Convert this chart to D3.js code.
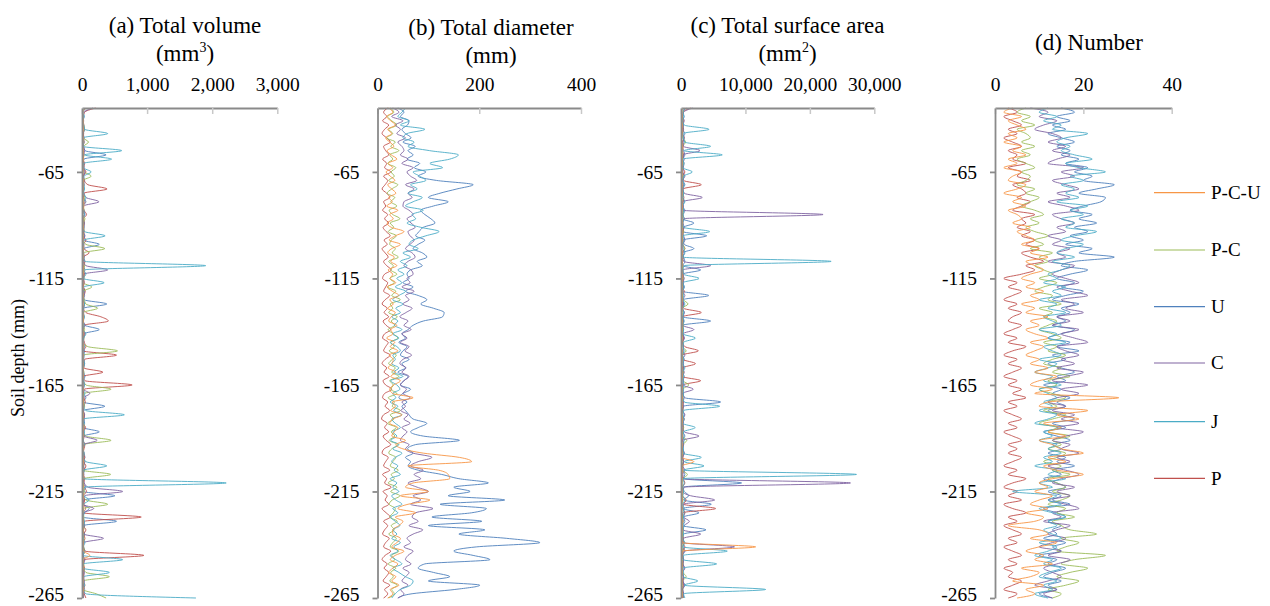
<!DOCTYPE html>
<html lang="en">
<head>
<meta charset="utf-8">
<title>Root traits by soil depth</title>
<script src="https://d3js.org/d3.v7.min.js"></script>
<style>
  body { margin: 0; background: #fff; }
  text { font-family: "Liberation Serif", "Times New Roman", serif; fill: #000; }
</style>
</head>
<body>
<script>
// soil depth (mm), one sample every 2 mm
var depth = d3.range(-35, -266, -2);
var depthTicks = [-65, -115, -165, -215, -265];

var seriesNames = ["P-C-U", "P-C", "U", "C", "J", "P"];
var seriesColors = ["#F79646", "#9BBB59", "#4F81BD", "#8064A2", "#4BACC6", "#C0504D"];
// excel series order (last drawn on top)
var drawOrder = ["U", "P", "P-C", "C", "J", "P-C-U"];

// (a) Total volume (mm3)
var volPCU = [50,15,10,20,15,25,10,20,15,10, 20,15,25,10,15,20,10,25,15,20, 10,15,20,30,15,10,20,15,25,10,
  15,20,10,25,15,20,10,15,30,20, 10,15,20,10,25,15,20,10,15,20, 25,10,15,20,10,15,25,10,20,15,
  10,20,15,25,10,15,20,10,15,25, 15,10,20,15,10,25,15,20,10,15, 20,10,15,25,15,10,20,15,10,20,
  15,25,10,15,20,10,15,20,10,25, 15,10,20,15,25,120,10,15,20,10, 15,20,10,25,15,10];
var volPC = [30,15,20,10,25,40,15,20,100,25, 15,30,20,25,10,35,140,20,30,15, 25,40,15,20,30,10,45,20,25,30,
  15,20,60,350,25,30,15,40,20,25, 30,15,150,25,20,35,60,240,20,30, 15,25,40,20,30,15,90,545,25,20,
  35,15,30,20,25,60,445,30,15,25, 40,20,30,15,25,35,20,60,445,25, 15,30,20,40,25,15,440,30,20,25,
  35,20,60,395,25,15,30,20,40,25, 15,30,20,25,35,20,15,30,25,60, 420,20,30,15,215,370];
var volU = [60,20,35,15,25,40,20,30,15,25, 45,370,30,20,35,15,25,40,20,30, 15,25,60,20,30,45,15,25,35,20,
  40,25,265,30,20,15,35,25,45,20, 30,15,25,40,20,35,380,25,15,30, 20,45,265,25,15,30,20,40,25,15,
  35,20,25,45,15,30,20,25,60,20, 350,25,15,30,40,20,265,25,15,35, 20,30,45,15,25,40,20,30,15,60,
  25,505,30,20,110,35,15,530,25,20, 40,15,30,25,45,20,30,15,25,35, 20,30,15,40,25,20];
var volC = [170,30,15,25,20,35,15,30,20,25, 40,25,15,30,20,45,25,15,35,20, 30,60,260,25,20,35,15,30,25,20,
  45,15,30,20,25,35,20,60,395,25, 20,30,15,25,40,20,35,15,25,30, 20,45,15,30,25,20,35,15,30,25,
  40,20,15,30,25,35,20,120,25,15, 30,20,40,25,15,35,20,30,233,25, 15,30,20,45,25,15,30,20,35,90,
  625,40,25,20,180,30,15,25,40,20, 30,330,25,15,30,20,45,25,15,30, 20,35,25,15,30,20];
var volJ = [40,20,30,15,25,40,395,20,30,15, 610,40,455,25,20,140,30,15,25,40, 20,60,30,15,25,35,20,30,15,40,
  355,25,20,30,15,25,45,1900,30,60, 20,340,25,15,30,20,40,25,15,35, 20,30,15,60,25,20,35,15,30,25,
  40,20,15,30,25,35,20,45,15,30, 25,60,650,20,30,15,40,25,20,35, 15,30,20,60,380,25,15,30,2215,40,
  20,30,110,25,15,35,20,40,25,15, 30,20,45,15,30,20,625,25,15,420, 30,20,40,15,60,1750];
var volP = [210,40,20,15,30,10,25,20,35,15, 20,30,15,40,25,60,20,35,90,385, 30,20,45,15,30,70,25,40,20,35,
  15,60,25,30,110,20,45,30,20,40, 25,35,20,50,30,15,40,25,60,290, 405,30,20,45,25,35,60,20,530,40,
  25,30,320,20,45,770,35,20,30,50, 25,15,40,30,20,55,25,35,20,45, 30,20,40,25,60,30,20,45,25,35,
  70,20,40,30,55,25,910,40,20,60, 30,45,25,20,50,950,35,20,40,25, 30,20,45,25,35,60];

// (b) Total diameter (mm)
var diaPCU = [22,30,18,26,35,20,28,16,24,32, 19,27,38,21,30,17,25,34,20,28, 36,22,29,18,40,24,31,19,27,52,
  35,23,45,28,20,33,26,38,21,30, 25,36,19,29,42,24,31,20,35,27, 22,38,26,30,18,34,25,40,23,31,
  28,21,36,26,45,32,24,30,70,29, 35,26,48,30,24,40,33,28,55,36, 50,90,161,185,60,120,139,142,70,55,
  100,45,103,60,40,75,35,50,42,30, 30,45,38,28,52,35,25,40,30,22, 36,28,42,25,30,20];
var diaPC = [25,32,20,28,38,22,30,18,35,26, 42,24,30,20,36,27,33,22,40,28, 19,34,26,38,23,30,44,25,32,21,
  37,27,24,35,29,41,22,31,26,38, 24,33,20,36,28,45,25,30,22,39, 27,34,21,31,40,26,33,23,37,29,
  22,35,28,42,24,31,26,38,21,33, 29,45,25,32,20,37,27,34,23,40, 28,22,36,30,25,41,27,33,21,38,
  26,44,29,23,35,31,24,39,27,33, 22,37,30,25,42,28,34,21,36,26, 31,24,39,28,33,22];
var diaU = [40,52,45,62,59,48,55,66,50,74, 60,70,58,83,72,95,80,116,188,156, 123,100,139,110,85,93,105,113,90,82,
  75,93,80,70,88,97,78,88,65,58, 62,50,70,55,80,97,85,110,131,128, 90,70,60,48,55,42,58,50,45,62,
  48,55,40,60,52,45,65,50,42,58, 48,55,62,70,97,80,65,90,161,75, 59,70,55,65,60,80,126,160,218,150,
  182,139,250,123,214,185,107,205,100,211, 160,254,319,195,150,188,221,93,80,110, 142,100,201,152,68,40];
var diaC = [30,42,28,50,35,45,38,55,40,48, 52,45,60,48,70,58,65,77,55,72, 60,68,52,50,62,70,58,66,74,60,
  64,72,64,55,68,74,60,52,66,70, 58,64,48,72,55,62,50,68,56,44, 60,52,66,48,58,45,62,54,67,50,
  44,56,48,62,52,45,57,50,64,48, 55,46,60,52,64,48,58,50,45,62, 55,70,107,80,65,90,72,85,60,78,
  100,70,85,65,109,75,68,80,62,89, 70,58,65,52,70,60,55,66,50,62, 55,48,60,45,52,40];
var diaJ = [55,48,40,62,45,93,58,50,72,60, 102,159,142,103,128,70,83,95,65,78, 60,88,70,55,90,68,75,58,85,121,
  95,70,62,80,50,65,45,58,40,52, 38,48,35,55,42,30,50,36,45,28, 40,33,48,30,42,25,38,45,30,35,
  28,42,32,50,26,38,44,30,36,25, 40,32,48,28,35,45,30,38,26,42, 30,48,35,28,40,33,45,25,38,30,
  42,28,36,48,30,40,26,35,44,30, 38,28,45,32,40,25,36,48,30,42, 55,70,65,45,35,28];
var diaP = [20,12,18,10,22,14,9,18,25,12, 16,22,10,18,14,26,12,20,15,9, 18,24,12,16,10,20,14,22,11,17,
  25,13,19,9,15,21,12,18,27,14, 10,20,16,12,24,15,9,19,13,22, 11,17,26,14,10,21,16,12,25,15,
  9,18,13,23,11,16,28,14,10,20, 15,24,12,8,19,14,22,11,17,26, 13,9,21,16,12,24,10,18,14,27,
  11,19,15,22,9,17,25,12,20,14, 10,23,16,12,26,15,9,19,13,22, 17,11,24,14,20,12];

// (c) Total surface area (mm2)
var areaPCU = [300,150,200,100,250,150,200,100,150,250, 100,200,150,250,100,200,150,100,250,150, 200,100,150,250,200,100,150,200,100,250,
  150,200,100,150,250,100,200,150,100,200, 250,150,100,200,150,250,100,200,150,100, 200,150,250,100,200,150,100,250,150,200,
  100,150,200,250,100,150,200,100,250,150, 200,100,150,250,200,100,150,200,100,250, 150,200,100,2000,150,250,100,200,150,100,
  200,150,250,100,200,150,100,250,150,200, 100,150,200,11580,250,150,100,200,150,250, 100,200,150,100,250,150];
var areaPC = [200,350,150,300,250,400,200,300,700,250, 150,300,200,400,250,150,350,200,300,250, 400,150,300,200,350,250,150,300,200,400,
  250,150,300,600,200,350,150,250,300,200, 400,150,300,250,200,350,1100,200,300,150, 250,400,200,300,150,350,250,800,200,300,
  150,250,400,200,300,1200,250,150,300,200, 350,250,150,300,200,400,250,150,900,300, 200,350,150,300,250,200,1000,300,150,250,
  400,200,300,150,250,600,200,300,150,350, 250,200,400,150,300,250,200,350,150,300, 800,250,200,300,150,400];
var areaU = [800,300,500,200,400,250,600,300,500,200, 400,600,250,500,300,200,450,300,600,250, 400,300,500,200,600,350,250,2000,400,300,
  3980,300,500,2000,250,400,600,300,3050,250, 400,300,500,250,4300,300,400,200,500,300, 4600,250,400,300,500,200,400,300,250,500,
  300,400,200,500,300,250,400,300,600,6150, 400,250,500,300,200,400,300,600,250,400, 300,500,200,400,300,250,600,400,9400,300,
  500,1200,400,4700,300,2800,400,600,300,3870, 400,250,500,300,600,250,400,300,500,250, 400,300,600,250,400,300];
var areaC = [1800,400,250,500,300,400,250,500,300,400, 2950,300,500,250,400,300,600,250,400,300, 500,3300,250,400,300,22050,400,300,500,250,
  400,600,300,250,500,300,400,4600,300,250, 500,300,400,250,600,300,400,250,500,300, 400,250,2000,300,500,250,400,300,600,250,
  400,300,500,250,400,300,1900,250,500,300, 400,250,600,300,400,250,500,2800,300,400, 250,500,300,400,250,600,300,400,26300,500,
  300,1500,5220,400,300,600,400,1300,500,300, 3050,400,300,8300,500,250,400,300,600,250, 400,300,500,250,400,300];
var areaJ = [600,300,400,250,500,4340,300,400,600,4600, 500,6400,300,400,250,1750,400,300,500,250, 400,300,600,250,400,300,500,250,400,4450,
  300,500,250,400,600,300,23300,500,300,400, 2800,300,500,250,400,300,600,250,400,300, 500,250,400,300,2250,400,300,500,250,400,
  300,600,250,400,300,500,250,400,300,500, 6000,400,300,500,250,2200,400,300,500,250, 400,300,3150,500,3570,400,27230,300,500,250,
  400,300,600,250,500,300,400,250,500,300, 400,250,600,300,7180,400,300,5530,250,400, 300,2600,500,13130,400,600];
var areaP = [1500,300,200,400,150,300,250,500,200,350, 250,400,150,300,200,600,250,400,3150,300, 200,450,300,150,350,250,500,200,300,400,
  150,300,250,600,200,350,150,300,250,400, 200,350,150,500,250,300,200,400,3150,250, 350,200,300,150,400,250,600,2700,200,300,
  2250,250,400,200,3050,300,150,350,250,400, 200,300,150,500,250,350,200,300,250,400, 150,300,250,400,200,350,150,300,600,250,
  300,200,800,400,5380,300,200,350,150,300, 250,400,200,600,300,250,400,200,300,150, 350,250,400,200,300,250];

// (d) Number
var numPCU = [4,2,6,3,5,7,3,5,2,6, 4,7,3,5,2,6,4,3,7,5, 2,6,4,7,3,5,6,4,8,5,
  7,9,6,10,8,12,7,9,11,8, 6,9,7,11,8,10,6,9,7,12, 8,10,7,9,12,8,11,9,7,10,
  8,12,9,14,10,8,13,9,28,12, 10,21,14,19,11,15,12,16,10,13, 15,20,12,16,11,14,20,13,10,12,
  9,13,10,8,12,7,11,9,3,10, 12,8,14,10,7,11,9,13,6,10, 8,4,11,7,9,5];
var numPC = [7,5,8,6,9,5,7,8,6,9, 6,8,5,7,9,6,8,7,5,9, 7,10,8,6,9,11,8,10,7,9,
  12,9,11,8,13,10,12,9,11,13, 10,14,11,9,13,12,15,10,13,11, 14,12,10,13,15,11,14,12,16,13,
  11,15,13,17,12,14,10,13,16,12, 14,11,16,13,10,14,12,17,13,15, 12,16,14,11,15,13,17,12,14,16,
  13,17,15,12,16,14,18,13,15,17, 23,15,19,16,14,25,18,15,21,17, 14,19,16,12,15,13];
var numU = [15,18,14,17,13,16,12,15,18,14, 17,15,19,16,21,18,22,20,27,23, 19,25,24,20,17,22,19,23,18,21,
  17,20,16,22,19,27,18,15,21,17, 14,18,15,20,16,13,19,15,17,14, 16,13,18,15,12,17,14,19,13,16,
  12,15,18,14,16,11,15,13,17,14, 16,12,15,18,13,16,11,14,17,13, 15,12,16,14,18,13,15,11,14,16,
  12,15,13,17,11,14,16,12,15,13, 14,11,16,13,15,10,14,12,16,13, 11,15,12,14,10,13];
var numC = [8,12,10,14,11,9,13,15,12,16, 13,17,14,12,20,15,18,13,16,19, 14,17,12,16,19,13,15,18,14,16,
  12,15,13,17,14,16,12,18,15,13, 16,19,14,17,21,15,18,16,20,14, 17,13,19,15,18,21,14,16,19,15,
  18,14,20,16,13,21,15,19,14,12, 16,13,18,15,19,14,20,16,13,17, 15,19,14,17,12,16,19,15,13,18,
  14,17,12,16,19,13,15,11,17,14, 12,16,13,10,15,12,17,14,11,13, 15,12,9,14,11,13];
var numJ = [12,10,14,11,15,13,21,16,14,17, 15,18,22,16,19,25,17,20,15,18, 16,19,14,21,17,20,15,18,16,23,
  18,15,20,16,14,18,13,17,15,12, 14,11,16,13,15,10,14,12,16,11, 13,15,10,14,12,16,11,13,15,10,
  14,12,9,13,11,15,10,12,14,11, 13,10,14,12,9,15,11,13,10,14, 12,15,11,13,9,14,12,16,10,13,
  4,14,12,15,10,13,16,12,14,11, 13,15,10,14,12,9,13,11,15,12, 10,14,11,13,9,12];
var numP = [3,5,2,4,6,3,5,2,4,6, 3,5,4,7,3,6,5,8,4,6, 7,5,8,6,4,9,6,7,5,8,
  6,9,7,10,6,8,11,7,9,6, 2,5,3,6,4,2,5,3,6,4, 3,6,4,2,5,3,7,4,2,5,
  3,6,4,2,5,3,6,4,7,3, 5,2,4,6,3,5,2,4,6,3, 5,3,6,4,2,5,3,7,4,2,
  5,3,6,2,4,7,3,5,2,4, 6,3,5,2,4,6,3,5,2,4, 3,6,4,2,5,3];

var panels = [
  { title: ["(a) Total volume", "(mm", "3", ")"], cx: 185, ty: 33, x0: 82, x1: 277.3, max: 3000, ticks: [0, 1000, 2000, 3000],
    values: { "P-C-U": volPCU, "P-C": volPC, "U": volU, "C": volC, "J": volJ, "P": volP } },
  { title: ["(b) Total diameter", "(mm", "", ")"], cx: 491, ty: 35, x0: 377.5, x1: 581, max: 400, ticks: [0, 200, 400],
    values: { "P-C-U": diaPCU, "P-C": diaPC, "U": diaU, "C": diaC, "J": diaJ, "P": diaP } },
  { title: ["(c) Total surface area", "(mm", "2", ")"], cx: 787.5, ty: 33, x0: 681, x1: 874.3, max: 30000, ticks: [0, 10000, 20000, 30000],
    values: { "P-C-U": areaPCU, "P-C": areaPC, "U": areaU, "C": areaC, "J": areaJ, "P": areaP } },
  { title: ["(d) Number"], cx: 1089, ty: 50, x0: 995, x1: 1171.7, max: 40, ticks: [0, 20, 40],
    values: { "P-C-U": numPCU, "P-C": numPC, "U": numU, "C": numC, "J": numJ, "P": numP } }
];

var width = 1270, height = 606;
var yTop = 108, yBottom = 598;

var svg = d3.select("body").append("svg")
  .attr("width", width)
  .attr("height", height);

var yScale = d3.scaleLinear().domain([-265, -35]).range([yBottom, yTop]);
var color = d3.scaleOrdinal().domain(seriesNames).range(seriesColors);

// plain hyphen for negative depths, like the original
var fmtDepth = function (d) { return String(d); };

panels.forEach(function (p) {
  var xScale = d3.scaleLinear().domain([0, p.max]).range([p.x0, p.x1]);

  var line = d3.line()
    .x(function (d) { return xScale(d.v); })
    .y(function (d) { return yScale(d.depth); })
    .curve(d3.curveMonotoneY);

  var g = svg.append("g");

  drawOrder.forEach(function (name) {
    var pts = p.values[name].map(function (v, i) { return { depth: depth[i], v: v }; });
    g.append("path")
      .datum(pts)
      .attr("fill", "none")
      .attr("stroke", color(name))
      .attr("stroke-width", 1)
      .attr("stroke-opacity", 0.9)
      .attr("d", line);
  });

  // top axis, ticks pointing into the plot
  var xAxis = svg.append("g")
    .attr("transform", "translate(0," + yTop + ")")
    .call(d3.axisTop(xScale).tickValues(p.ticks).tickFormat(d3.format(",")).tickSizeInner(-6).tickSizeOuter(0).tickPadding(17.5));
  xAxis.selectAll("text").style("font-size", "19.5px").style("font-family", "'Liberation Serif', serif").attr("fill", "#000");

  // left axis
  var yAxis = svg.append("g")
    .attr("transform", "translate(" + p.x0 + ",0)")
    .call(d3.axisLeft(yScale).tickValues(depthTicks).tickFormat(fmtDepth).tickSizeInner(5).tickSizeOuter(0).tickPadding(13));
  yAxis.selectAll("text").style("font-size", "19.5px").style("font-family", "'Liberation Serif', serif").attr("fill", "#000");
  // keep the bottom label inside the picture
  yAxis.selectAll(".tick text").filter(function (d) { return d === -265; }).attr("dy", "0.15em");

  [xAxis, yAxis].forEach(function (a) {
    a.select(".domain").attr("stroke", "#8a8a8a").attr("stroke-width", 1.8);
    a.selectAll(".tick line").attr("stroke", "#8a8a8a").attr("stroke-width", 1.8);
  });
  xAxis.selectAll(".tick line").attr("stroke", "#c8c8c8").attr("stroke-width", 1.5);

  // panel title
  svg.append("text")
    .attr("x", p.cx)
    .attr("y", p.ty)
    .attr("text-anchor", "middle")
    .style("font-size", "23px")
    .text(p.title[0]);
  if (p.title.length > 1) {
    var t2 = svg.append("text")
      .attr("x", p.cx)
      .attr("y", p.ty + 28)
      .attr("text-anchor", "middle")
      .style("font-size", "23px");
    t2.append("tspan").text(p.title[1]);
    if (p.title[2]) {
      t2.append("tspan").attr("dy", -9).style("font-size", "14px").text(p.title[2]);
      t2.append("tspan").attr("dy", 9).text(p.title[3]);
    } else {
      t2.append("tspan").text(p.title[3]);
    }
  }
});

// y axis label
svg.append("text")
  .attr("transform", "translate(24,358) rotate(-90)")
  .attr("text-anchor", "middle")
  .style("font-size", "18px")
  .text("Soil depth (mm)");

// legend
var legendY = [192.7, 250, 306.7, 363, 421.7, 478.3];
var legend = svg.append("g");
seriesNames.forEach(function (name, i) {
  legend.append("line")
    .attr("x1", 1154).attr("x2", 1205)
    .attr("y1", legendY[i]).attr("y2", legendY[i])
    .attr("stroke", color(name))
    .attr("stroke-width", 1.2);
  legend.append("text")
    .attr("x", 1211)
    .attr("y", legendY[i])
    .attr("dy", "0.33em")
    .style("font-size", "19px")
    .text(name);
});
</script>
</body>
</html>
